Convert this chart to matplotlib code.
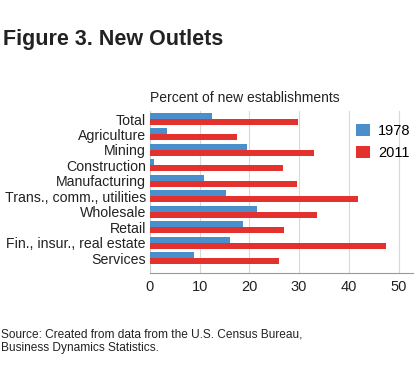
import numpy as np
import matplotlib.pyplot as plt

plt.rcParams.update({'font.family': 'Liberation Sans', 'font.size': 10})

categories = ['Total', 'Agriculture', 'Mining', 'Construction', 'Manufacturing',
              'Trans., comm., utilities', 'Wholesale', 'Retail',
              'Fin., insur., real estate', 'Services']
vals_1978 = [12.5, 3.4, 19.6, 0.9, 10.9, 15.2, 21.5, 18.7, 16.0, 8.8]
vals_2011 = [29.8, 17.4, 33.0, 26.8, 29.5, 41.8, 33.6, 26.9, 47.4, 26.0]
xticks = [0, 10, 20, 30, 40, 50]

blue = '#4A8FCB'
red = '#E3322E'

fig = plt.figure(figsize=(4.2, 3.74), dpi=100)
ax = fig.add_axes([150 / 420, 1 - 273 / 374, 263 / 420, 162 / 374])

y = np.arange(len(categories))
h = 0.39
ax.barh(y - h / 2, vals_1978, height=h, color=blue, label='1978', zorder=3)
ax.barh(y + h / 2, vals_2011, height=h, color=red, label='2011', zorder=3)

ax.set_ylim(9.97, -0.52)
ax.set_xlim(0, 52.9)
ax.set_yticks(y)
ax.set_yticklabels(categories, color='#222222', fontsize=10.2)
ax.set_xticks(xticks)
ax.tick_params(axis='y', length=0, pad=3)
ax.tick_params(axis='x', length=0, pad=5, colors='#222222', labelsize=10.5)
ax.grid(axis='x', color='#d8d8d8', linewidth=0.8, zorder=0)
for s in ['top', 'right']:
    ax.spines[s].set_visible(False)
ax.spines['left'].set_color('#cccccc')
ax.spines['bottom'].set_color('#999999')

ax.legend(loc='upper left', bbox_to_anchor=(0.735, 1.0), frameon=False,
          handlelength=0.9, handleheight=0.9, handletextpad=0.6,
          labelspacing=0.55, fontsize=10.5)

fig.text(3 / 420, 1 - 40 / 374, 'Figure 3. New Outlets', fontsize=15.5,
         fontweight='bold', color='#222222', va='center', ha='left')
fig.text(150 / 420, 1 - 98 / 374, 'Percent of new establishments', fontsize=10,
         color='#222222', va='center', ha='left')
fig.text(1 / 420, 1 - 341 / 374,
         'Source: Created from data from the U.S. Census Bureau,\nBusiness Dynamics Statistics.',
         fontsize=8.6, color='#222222', va='center', ha='left', linespacing=1.15)

fig.savefig('out.png', dpi=100)
